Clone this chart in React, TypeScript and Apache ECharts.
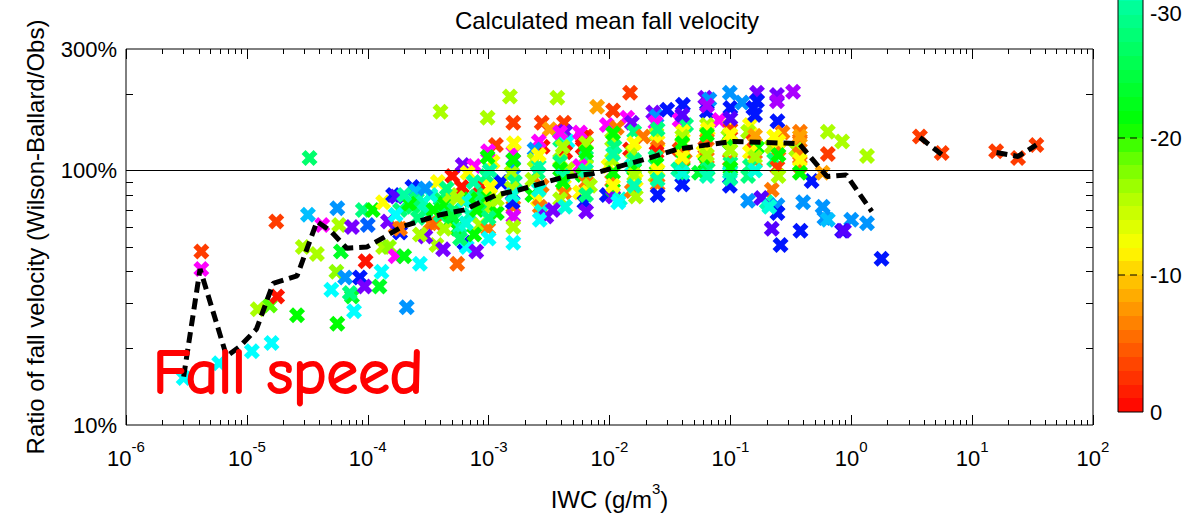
import React, { useEffect, useRef } from "react";
import * as echarts from "echarts";

// ---------- DATA: [IWC (g/m3), ratio (%), temperature (degC)] ----------
const pointsBelow1e4 = [
  [3.0e-6, 15.3, -35], [4.2e-6, 48, -3], [4.2e-6, 41, -60], [5.9e-6, 17.5, -35],
  [1.1e-5, 19.5, -35], [1.6e-5, 21, -35], [1.23e-5, 28.5, -16], [1.55e-5, 29.5, -19],
  [1.78e-5, 32, -1], [1.75e-5, 63, -3], [2.6e-5, 27, -21], [2.9e-5, 50, -16],
  [3.8e-5, 47, -16], [3.2e-5, 67, -38], [4.2e-5, 61, -60], [3.3e-5, 112, -27],
  [5.0e-5, 34, -35], [5.6e-5, 25, -21], [5.5e-5, 40, -17], [6.0e-5, 48, -23],
  [5.6e-5, 71, -40], [5.8e-5, 61, -16], [6.5e-5, 38, -40], [7.4e-5, 60, -52],
  [7.4e-5, 32, -23], [7.1e-5, 33, -28], [7.7e-5, 28, -35], [9.1e-5, 70, -28],
  [8.6e-5, 38, -45], [9.4e-5, 35, -52], [9.6e-5, 44, -1],
];
const points1e4to1e3 = [
  [1.0e-4, 61, -42], [1.1e-4, 70, -21], [1.34e-4, 75, -12], [1.62e-4, 80, -45],
  [1.72e-4, 79, -50], [2.34e-4, 86, -45], [2.5e-4, 83, -38], [2.55e-4, 77, -28],
  [2.9e-4, 75, -31], [3.8e-4, 90, -12], [4.0e-4, 77, -27], [1.7e-4, 60, -6],
  [3.3e-4, 62, -6], [3.6e-4, 62, -5], [3.7e-4, 51, -16], [4.2e-4, 49, -52],
  [1.47e-4, 63, -52], [1.85e-4, 57, -45], [3.0e-4, 55, -52], [1.34e-4, 50, -16],
  [1.5e-4, 50, -17], [1.7e-4, 46, -60], [2.0e-4, 46, -22], [2.7e-4, 43, -35],
  [2.1e-4, 29, -40], [1.3e-4, 40, -35], [1.25e-4, 35, -23], [5.5e-4, 59, -22],
  [6.3e-4, 52, -45], [6.6e-4, 50, -35], [7.9e-4, 48, -52], [5.5e-4, 43, -5],
  [5.0e-4, 95, -1], [6.0e-4, 86, -1], [8.5e-4, 87, -1], [6.1e-4, 105, -52],
  [7.6e-4, 104, -60], [6.7e-4, 98, -12], [7.9e-4, 79, -28], [9.6e-4, 72, -27],
  [4.0e-4, 67, -28], [4.8e-4, 63, -21], [5.8e-4, 60, -31], [2.35e-4, 72, -27],
  [4.0e-4, 170, -16], [1.85e-4, 59, -6], [1.85e-4, 70, -28], [2.2e-4, 74, -21],
  [3.0e-4, 69, -31], [4.3e-4, 74, -21], [4.8e-4, 80, -16], [5.2e-4, 70, -27],
  [7.0e-4, 67, -31], [8.5e-4, 61, -16], [7.0e-4, 77, -21], [9.3e-4, 80, -27],
  [3.3e-4, 80, -33], [1.7e-4, 67, -35], [4.3e-4, 59, -16], [7.6e-4, 56, -21],
  [2.7e-4, 56, -16], [5.8e-4, 54, -27], [6.3e-4, 76, -33], [9.8e-4, 161, -16],
  [2.0e-4, 80, -30], [2.6e-4, 65, -28], [3.5e-4, 70, -21], [4.5e-4, 85, -28],
  [5.5e-4, 78, -16], [6.5e-4, 62, -33], [8.0e-4, 70, -21], [3.0e-4, 85, -40],
  [5.0e-4, 66, -24], [7.5e-4, 90, -30],
];
const points1e3to1e2 = [
  [1.15e-3, 126, -3], [9.9e-4, 119, -60], [1.08e-3, 108, -12], [9.6e-4, 95, -28],
  [1.0e-3, 79, -21], [1.05e-3, 72, -16], [9.9e-4, 59, -6], [1.0e-3, 54, -35],
  [1.27e-3, 90, -45], [1.17e-3, 68, -21], [1.17e-3, 77, -16],
  [1.02e-3, 100, -30], [9.8e-4, 113, -21], [1.03e-3, 86, -12], [1.0e-3, 65, -28],
  [1.5e-3, 195, -16], [1.6e-3, 154, -3], [1.6e-3, 118, -60], [1.6e-3, 103, -40],
  [1.55e-3, 98, -16], [1.65e-3, 90, -28], [1.55e-3, 85, -16], [1.6e-3, 72, -6],
  [1.58e-3, 75, -45], [1.6e-3, 66, -58], [1.6e-3, 52, -35],
  [1.6e-3, 110, -21], [1.62e-3, 128, -12], [1.58e-3, 80, -33], [1.6e-3, 60, -16],
  [3.7e-3, 193, -16], [2.75e-3, 154, -3], [3.2e-3, 145, -8], [2.8e-3, 124, -1],
  [2.6e-3, 130, -60], [2.4e-3, 121, -40], [2.4e-3, 110, -16], [2.55e-3, 98, -28],
  [2.3e-3, 92, -16], [2.75e-3, 87, -6], [2.3e-3, 80, -21], [2.55e-3, 77, -12],
  [2.65e-3, 72, -6], [2.75e-3, 69, -33], [3.0e-3, 66, -52], [2.65e-3, 64, -35],
  [2.6e-3, 104, -30], [2.6e-3, 115, -12], [2.6e-3, 84, -33],
  [4.2e-3, 154, -3], [4.3e-3, 142, -52], [3.9e-3, 132, -28], [4.5e-3, 130, -35],
  [3.9e-3, 141, -60], [4.3e-3, 118, -1], [3.9e-3, 110, -16], [3.9e-3, 108, -28],
  [4.5e-3, 101, -16], [3.9e-3, 101, -21], [4.2e-3, 87, -12], [4.2e-3, 82, -6],
  [3.9e-3, 77, -16], [4.3e-3, 72, -33], [3.4e-3, 70, -52],
  [4.1e-3, 124, -16], [4.1e-3, 95, -30], [4.1e-3, 90, -21],
  [7.9e-3, 178, -8], [6.4e-3, 136, -3], [6.0e-3, 123, -1], [6.0e-3, 135, -1],
  [5.7e-3, 141, -60], [6.4e-3, 113, -28], [6.4e-3, 104, -16], [5.7e-3, 104, -60],
  [6.0e-3, 96, -21], [6.4e-3, 90, -6], [6.9e-3, 87, -16], [5.7e-3, 82, -12],
  [6.2e-3, 75, -45], [6.4e-3, 69, -52], [9.5e-3, 151, -60], [9.8e-3, 104, -12],
  [9.5e-3, 80, -45],
  [6.4e-3, 128, -16], [6.4e-3, 118, -21], [6.4e-3, 100, -30], [6.4e-3, 80, -28],
];
const points1e2to1e1 = [
  [1.07e-2, 172, -3], [1.48e-2, 202, -3], [1.4e-2, 161, -60], [1.15e-2, 147, -6],
  [1.05e-2, 132, -16], [1.1e-2, 124, -28], [1.05e-2, 110, -16], [1.05e-2, 91, -6],
  [1.07e-2, 84, -21], [1.07e-2, 79, -52], [1.22e-2, 77, -33], [1.18e-2, 75, -35],
  [1.48e-2, 121, -1],
  [1.07e-2, 140, -21], [1.07e-2, 116, -30], [1.07e-2, 98, -21], [1.07e-2, 87, -12],
  [1.53e-2, 154, -52], [1.6e-2, 142, -28], [1.9e-2, 136, -6], [1.55e-2, 118, -16],
  [1.53e-2, 104, -33], [1.6e-2, 101, -21], [1.65e-2, 92, -12], [1.53e-2, 83, -6],
  [1.65e-2, 79, -16],
  [1.6e-2, 128, -12], [1.6e-2, 110, -28], [1.6e-2, 96, -16], [1.6e-2, 87, -31],
  [2.3e-2, 169, -52], [2.45e-2, 163, -40], [2.4e-2, 154, -60], [2.45e-2, 139, -16],
  [2.5e-2, 130, -12], [2.5e-2, 123, -6], [2.45e-2, 118, -1], [2.4e-2, 113, -28],
  [2.45e-2, 106, -21], [2.4e-2, 95, -16], [2.5e-2, 88, -6], [2.5e-2, 80, -45],
  [3.0e-2, 173, -45],
  [2.5e-2, 145, -28], [2.5e-2, 100, -12], [2.5e-2, 92, -30],
  [4.05e-2, 181, -45], [3.8e-2, 158, -60], [4.3e-2, 151, -28], [4.05e-2, 142, -12],
  [4.0e-2, 136, -16], [3.8e-2, 121, -3], [4.2e-2, 118, -6], [4.05e-2, 110, -21],
  [4.05e-2, 104, -6], [3.7e-2, 101, -30], [4.0e-2, 95, -28], [4.0e-2, 88, -45],
  [4.0e-2, 128, -21], [4.0e-2, 113, -12], [4.0e-2, 98, -33], [4.0e-2, 165, -50],
  [6.2e-2, 193, -52], [6.7e-2, 190, -40], [6.4e-2, 170, -45], [8.1e-2, 158, -60],
  [6.4e-2, 151, -16], [6.5e-2, 145, -12], [6.4e-2, 132, -6], [6.2e-2, 123, -3],
  [6.0e-2, 118, -12], [6.4e-2, 112, -6], [6.2e-2, 107, -21], [6.5e-2, 101, -28],
  [5.5e-2, 98, -24],
  [6.4e-2, 138, -21], [6.4e-2, 115, -16], [6.4e-2, 95, -31], [6.4e-2, 180, -55],
];
const pointsAbove1e1 = [
  [9.9e-2, 202, -40], [0.1, 176, -45], [0.125, 185, -40], [9.9e-2, 149, -12],
  [0.1, 145, -3], [9.6e-2, 136, -16], [9.9e-2, 129, -21], [9.9e-2, 110, -6],
  [0.1, 107, -28], [9.9e-2, 98, -33], [9.9e-2, 87, -45],
  [0.1, 138, -12], [0.1, 120, -16], [0.1, 102, -21], [0.1, 160, -50], [0.1, 93, -30],
  [0.166, 202, -52], [0.166, 187, -45], [0.155, 176, -45], [0.145, 151, -12],
  [0.14, 142, -16], [0.155, 130, -3], [0.166, 123, -21], [0.145, 118, -12],
  [0.16, 109, -6], [0.145, 104, -28], [0.14, 95, -28], [0.14, 76, -40],
  [0.16, 137, -8], [0.16, 113, -16], [0.16, 100, -33], [0.16, 165, -45],
  [0.243, 198, -52], [0.243, 187, -55], [0.245, 156, -45], [0.27, 141, -6],
  [0.23, 136, -12], [0.22, 124, -16], [0.25, 121, -6], [0.23, 110, -28],
  [0.245, 103, -3], [0.22, 84, -6], [0.2, 75, -31], [0.245, 73, -40],
  [0.245, 68, -45], [0.22, 59, -50], [0.26, 51, -45], [0.18, 78, -50],
  [0.21, 72, -33],
  [0.25, 130, -12], [0.25, 115, -21], [0.25, 95, -16],
  [0.33, 204, -55], [0.376, 142, -6], [0.376, 130, -6], [0.35, 121, -16],
  [0.376, 116, -6], [0.376, 104, -6], [0.47, 91, -45], [0.40, 75, -40],
  [0.376, 110, -12], [0.376, 136, -8], [0.376, 98, -21],
  [0.38, 58, -45], [0.58, 72, -40], [0.60, 65, -40], [0.64, 142, -16],
  [0.64, 116, -3], [0.58, 98, -8], [0.84, 130, -16], [1.35, 114, -16],
  [0.64, 64, -38], [1.0, 64, -40], [0.84, 58, -48], [0.87, 58, -50],
  [1.35, 62, -40], [1.78, 45, -45],
  [3.7, 136, -3], [5.6, 117, -3], [15.8, 119, -3], [24, 112, -3], [34, 126, -3],
];

// Mean curve (dashed), three separate runs
const meanCurveMain = [
  [3.0e-6, 15.5], [4.1e-6, 41], [6.8e-6, 18.6], [8.8e-6, 20.4], [1.2e-5, 23.8],
  [1.65e-5, 36], [2.6e-5, 38.5], [3.8e-5, 63], [4.9e-5, 58], [6.7e-5, 49.5],
  [9.8e-5, 50], [1.35e-4, 54.5], [1.9e-4, 60], [2.9e-4, 64], [4.0e-4, 67],
  [6.3e-4, 70], [8.5e-4, 75], [1.15e-3, 80], [1.8e-3, 84], [4.1e-3, 94],
  [7.2e-3, 97], [1.23e-2, 104], [2.15e-2, 112], [3.6e-2, 121], [6.4e-2, 126],
  [0.105, 130], [0.175, 129], [0.37, 127.5], [0.63, 94.7], [0.91, 96], [1.48, 69],
];
const meanCurveMid = [[3.7, 134.6], [5.6, 115.6]];
const meanCurveHigh = [[15.9, 117.6], [24, 113.5], [34, 126]];

// Axis / colourbar ticks
const xDecades = [1e-6, 1e-5, 1e-4, 1e-3, 1e-2, 1e-1, 1, 10, 100];
const minorMultipliers = [2, 3, 4, 5, 6, 7, 8, 9];
const yTickLabels = [10, 100, 300];
const yMinorTicks = [20, 30, 40, 50, 60, 70, 80, 90, 200];
const colorbarTicks = [0, -10, -20, -30];
const TEMP_MIN = -60;
const TEMP_MAX = 0;

// temperature -> hue key points (rainbow colour table)
const hueKeys: [number, number][] = [
  [0, 0], [-3, 14], [-6, 28], [-10, 48], [-12, 60], [-16, 80], [-19, 100],
  [-21, 120], [-30, 158], [-35, 180], [-40, 205], [-45, 235], [-50, 260],
  [-55, 280], [-60, 300],
];

const FONT = "'Liberation Sans', Arial, Helvetica, sans-serif";

function hsvToHex(h: number): string {
  const c = 1;
  const hp = (h % 360) / 60;
  const x = c * (1 - Math.abs((hp % 2) - 1));
  let r = 0, g = 0, b = 0;
  if (hp < 1) [r, g, b] = [c, x, 0];
  else if (hp < 2) [r, g, b] = [x, c, 0];
  else if (hp < 3) [r, g, b] = [0, c, x];
  else if (hp < 4) [r, g, b] = [0, x, c];
  else if (hp < 5) [r, g, b] = [x, 0, c];
  else [r, g, b] = [c, 0, x];
  const to = (v: number) => Math.round(v * 255).toString(16).padStart(2, "0");
  return "#" + to(r) + to(g) + to(b);
}
function tempColor(t: number): string {
  for (let i = 0; i < hueKeys.length - 1; i++) {
    const [t0, h0] = hueKeys[i];
    const [t1, h1] = hueKeys[i + 1];
    if (t <= t0 && t >= t1) {
      const f = (t0 - t) / (t0 - t1);
      return hsvToHex(h0 + f * (h1 - h0));
    }
  }
  return t > 0 ? hsvToHex(0) : hsvToHex(300);
}

const X_MARK =
  "path://M0,3.5L3.5,0L7,3.5L10.5,0L14,3.5L10.5,7L14,10.5L10.5,14L7,10.5L3.5,14L0,10.5L3.5,7Z";

export default function App() {
  const ref = useRef<HTMLDivElement>(null);
  useEffect(() => {
    if (!ref.current) return;
    const chart = echarts.init(ref.current, null, { renderer: "svg" });

    const allPoints = [
      ...pointsBelow1e4, ...points1e4to1e3, ...points1e3to1e2,
      ...points1e2to1e1, ...pointsAbove1e1,
    ];
    const xMinor: number[] = [];
    xDecades.slice(0, -1).forEach((d) =>
      minorMultipliers.forEach((k) => xMinor.push(+(k * d).toPrecision(3)))
    );
    const tempScale: string[] = [];
    for (let t = TEMP_MIN; t <= TEMP_MAX; t++) tempScale.push(tempColor(t));

    // colourbar (legend for the temperature colour scale)
    const cbX = 1118, cbW = 25, cbZeroY = 412, cbPerDeg = 13.7, cbTop = -20;
    const cbH = cbZeroY - cbTop;
    const stops: { offset: number; color: string }[] = [];
    for (let k = 31; k >= 0; k--) {
      const yTop = cbZeroY - cbPerDeg * (k + 1);
      const yBot = cbZeroY - cbPerDeg * k;
      const col = tempColor(-(k + 0.5));
      stops.push({ offset: Math.max(0, (yTop - cbTop) / cbH), color: col });
      stops.push({ offset: Math.min(1, (yBot - cbTop) / cbH), color: col });
    }
    const cbElems: any[] = [
      {
        type: "rect",
        shape: { x: cbX, y: cbTop, width: cbW, height: cbH },
        style: {
          fill: new echarts.graphic.LinearGradient(0, 0, 0, 1, stops),
          stroke: "#000",
          lineWidth: 1,
        },
      },
    ];
    colorbarTicks.forEach((t) => {
      const y = cbZeroY + t * cbPerDeg;
      if (t === -10 || t === -20) {
        cbElems.push({
          type: "line",
          shape: { x1: cbX, y1: y, x2: cbX + cbW, y2: y },
          style: { stroke: "#000", lineWidth: 1, lineDash: [7, 5] },
        });
      }
      const atTop = t === -30;
      cbElems.push({
        type: "text",
        x: cbX + 32,
        y: atTop ? 2 : y,
        style: {
          text: String(t),
          font: `22px ${FONT}`,
          fill: "#000",
          verticalAlign: atTop ? "top" : "middle",
          align: "left",
        },
      });
    });

    const majorTick = (len: number) => ({ show: true, inside: true, length: len, lineStyle: { color: "#000", width: 1 } });

    const option: any = {
      animation: false,
      backgroundColor: "#ffffff",
      title: {
        text: "Calculated mean fall velocity",
        left: 607,
        top: 8,
        padding: 0,
        textAlign: "center",
        textStyle: { fontFamily: FONT, fontSize: 24, fontWeight: "normal", color: "#000" },
      },
      grid: [
        { left: 126, right: 98, top: 49, bottom: 94, show: true, borderColor: "#000", borderWidth: 1, containLabel: false, outerBoundsMode: "none" },
        { left: 126, right: 98, top: 49, bottom: 94, show: false, containLabel: false, outerBoundsMode: "none" },
      ],
      xAxis: [
        {
          type: "log", logBase: 10, gridIndex: 0, position: "bottom", min: 1e-6, max: 100,
          axisLine: { show: false }, splitLine: { show: false },
          axisTick: { ...majorTick(10), customValues: xDecades },
          axisLabel: {
            customValues: xDecades,
            margin: 14,
            formatter: (v: number) => `{b|10}{s|${Math.round(Math.log10(v))}}`,
            rich: {
              b: { fontFamily: FONT, fontSize: 22, lineHeight: 30, verticalAlign: "bottom", color: "#000" },
              s: { fontFamily: FONT, fontSize: 15, lineHeight: 30, verticalAlign: "top", color: "#000" },
            },
          },
          name: "{n|IWC (g/m}{s|3}{n|)}",
          nameLocation: "middle",
          nameGap: 56,
          nameMoveOverlap: false,
          nameTextStyle: {
            rich: {
              n: { fontFamily: FONT, fontSize: 24, lineHeight: 30, verticalAlign: "bottom", color: "#000" },
              s: { fontFamily: FONT, fontSize: 15, lineHeight: 30, verticalAlign: "top", color: "#000" },
            },
          },
        },
        {
          type: "log", logBase: 10, gridIndex: 0, position: "top", min: 1e-6, max: 100,
          axisLine: { show: false }, splitLine: { show: false }, axisLabel: { show: false },
          axisTick: { ...majorTick(10), customValues: xDecades },
        },
        {
          type: "log", logBase: 10, gridIndex: 1, position: "bottom", min: 1e-6, max: 100,
          axisLine: { show: false }, splitLine: { show: false }, axisLabel: { show: false },
          axisTick: { ...majorTick(5), customValues: xMinor },
        },
        {
          type: "log", logBase: 10, gridIndex: 1, position: "top", min: 1e-6, max: 100,
          axisLine: { show: false }, splitLine: { show: false }, axisLabel: { show: false },
          axisTick: { ...majorTick(5), customValues: xMinor },
        },
      ],
      yAxis: [
        {
          type: "log", logBase: 10, gridIndex: 0, position: "left", min: 10, max: 300,
          axisLine: { show: false }, splitLine: { show: false },
          axisTick: { ...majorTick(7), customValues: yMinorTicks },
          axisLabel: {
            customValues: yTickLabels,
            margin: 9,
            formatter: (v: number) => `${Math.round(v)}%`,
            fontFamily: FONT, fontSize: 22, color: "#000",
          },
          name: "Ratio of fall velocity (Wilson-Ballard/Obs)",
          nameLocation: "middle",
          nameGap: 79,
          nameMoveOverlap: false,
          nameTextStyle: { fontFamily: FONT, fontSize: 24, color: "#000" },
        },
        {
          type: "log", logBase: 10, gridIndex: 0, position: "right", min: 10, max: 300,
          axisLine: { show: false }, splitLine: { show: false }, axisLabel: { show: false },
          axisTick: { ...majorTick(7), customValues: yMinorTicks },
        },
        {
          type: "log", logBase: 10, gridIndex: 1, position: "left", min: 10, max: 300, show: false,
        },
      ],
      visualMap: {
        type: "continuous", show: false, seriesIndex: 0, dimension: 2,
        min: TEMP_MIN, max: TEMP_MAX, inRange: { color: tempScale },
      },
      series: [
        {
          type: "scatter", xAxisIndex: 0, yAxisIndex: 0, data: allPoints,
          symbol: X_MARK, symbolSize: 16, itemStyle: { opacity: 1 }, z: 2, silent: true,
        },
        {
          type: "line", xAxisIndex: 0, yAxisIndex: 0, data: meanCurveMain,
          symbol: "none", z: 4, silent: true,
          lineStyle: { color: "#000", width: 5, type: [11, 6] },
          markLine: {
            silent: true, symbol: ["none", "none"], label: { show: false },
            lineStyle: { color: "#000", width: 1.2, type: "solid" },
            data: [{ yAxis: 100 }],
          },
        },
        {
          type: "line", xAxisIndex: 0, yAxisIndex: 0, data: meanCurveMid,
          symbol: "none", z: 4, silent: true,
          lineStyle: { color: "#000", width: 5, type: [11, 6] },
        },
        {
          type: "line", xAxisIndex: 0, yAxisIndex: 0, data: meanCurveHigh,
          symbol: "none", z: 4, silent: true,
          lineStyle: { color: "#000", width: 5, type: [11, 6] },
        },
      ],
      graphic: [
        ...cbElems,
        {
          type: "text",
          x: 153,
          y: 372,
          z: 10,
          style: {
            text: "Fall speed",
            font: "63px 'Comic Sans MS', 'Comic Neue', 'Noto Sans', sans-serif",
            fill: "#ff0000",
            stroke: "#ff0000",
            lineWidth: 2,
            verticalAlign: "middle",
            align: "left",
          },
        },
      ],
    };
    chart.setOption(option);
    return () => chart.dispose();
  }, []);
  return (
    <div
      ref={ref}
      style={{ position: "fixed", left: 0, top: 0, width: 1191, height: 519, background: "#fff" }}
    />
  );
}
